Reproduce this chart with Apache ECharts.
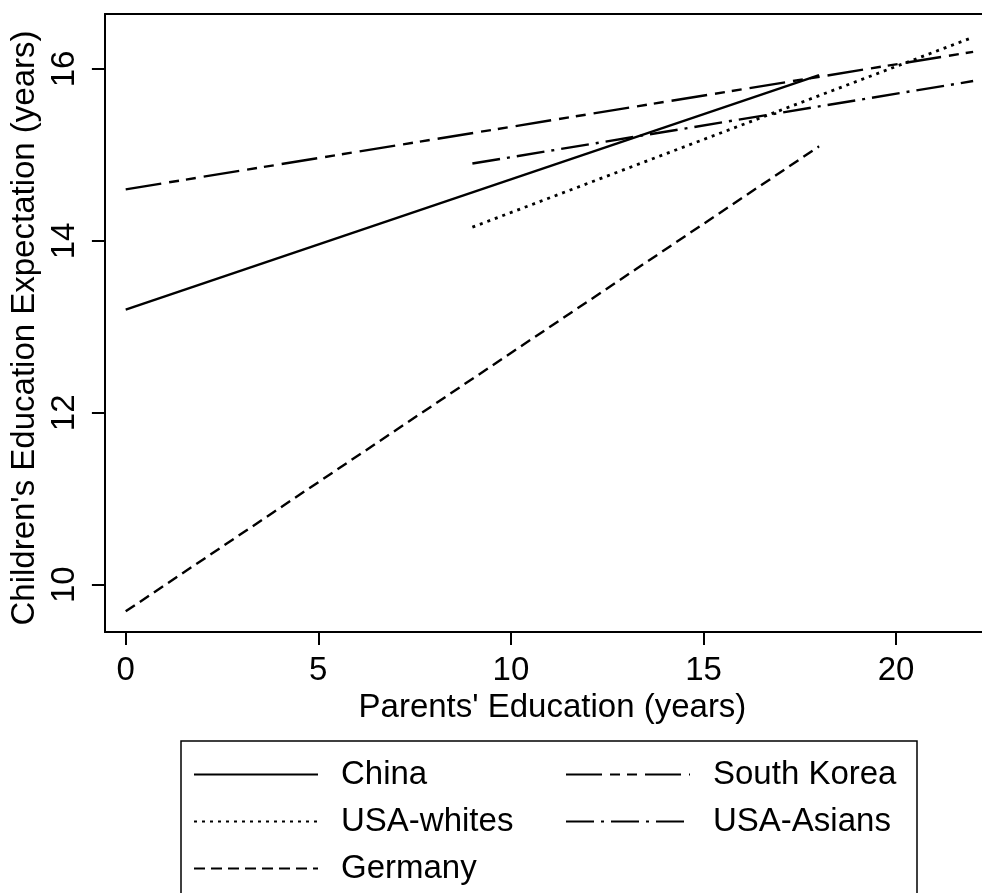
<!DOCTYPE html>
<html>
<head>
<meta charset="utf-8">
<script src="https://cdn.jsdelivr.net/npm/echarts@6/dist/echarts.min.js"></script>
<style>
  html, body { margin: 0; padding: 0; background: #fff; }
  #chart { width: 982px; height: 893px; }
</style>
</head>
<body>
<div id="chart"></div>
<script>
// Predicted children's education expectation by parents' education (years)
const seriesNames = ['China', 'South Korea', 'USA-whites', 'USA-Asians', 'Germany'];
const china      = [[0, 13.20], [18, 15.93]];
const southKorea = [[0, 14.60], [22, 16.20]];
const usaWhites  = [[9, 14.16], [22, 16.37]];
const usaAsians  = [[9, 14.90], [22, 15.86]];
const germany    = [[0, 9.69], [18, 15.10]];

const xTicks = [0, 5, 10, 15, 20];
const yTicks = [10, 12, 14, 16];

const FONT = 'Liberation Sans, Arial, sans-serif';
const FS = 33;
const LW = 2.4;
const X_MIN = -0.54, X_MAX = 22.23;
const Y_MIN = 9.45, Y_MAX = 16.64;

function lineSeries(name, data, dash, width) {
  return {
    name: name,
    type: 'line',
    xAxisIndex: 0,
    data: data,
    symbol: 'none',
    silent: true,
    animation: false,
    lineStyle: { color: '#000', width: width || LW, type: dash, cap: 'butt' },
    itemStyle: { color: '#000' }
  };
}

const chart = echarts.init(document.getElementById('chart'), null, { renderer: 'canvas' });

// legend keys show only the line pattern, no marker
const legendCommon = {
  orient: 'vertical',
  itemWidth: 124,
  itemHeight: 14,
  itemGap: 14,
  selectedMode: false,
  itemStyle: { opacity: 0 },
  textStyle: { fontFamily: FONT, fontSize: FS, color: '#000', lineHeight: 33, padding: [0, 0, 0, 18] }
};

const black = { color: '#000', width: 2 };

chart.setOption({
  backgroundColor: '#fff',
  animation: false,
  grid: { left: 103, top: 14, right: 0, bottom: 261, show: false },
  xAxis: [{
    type: 'value',
    min: X_MIN, max: X_MAX,
    name: "Parents' Education (years)",
    nameLocation: 'middle',
    nameGap: 58,
    nameTextStyle: { fontFamily: FONT, fontSize: FS, color: '#000', padding: [0, 0, 0, 18] },
    axisLine: { show: true, onZero: false, lineStyle: black },
    axisTick: { show: true, length: 13, customValues: xTicks, lineStyle: black },
    axisLabel: { customValues: xTicks, margin: 22, fontFamily: FONT, fontSize: FS, color: '#000' },
    splitLine: { show: false }
  }, {
    // frame line along the top of the plot
    type: 'value',
    position: 'top',
    min: X_MIN, max: X_MAX,
    axisLine: { show: true, onZero: false, lineStyle: black },
    axisTick: { show: false },
    axisLabel: { show: false },
    splitLine: { show: false }
  }],
  yAxis: {
    type: 'value',
    min: Y_MIN, max: Y_MAX,
    name: "Children's Education Expectation (years)",
    nameLocation: 'middle',
    nameGap: 60,
    nameTextStyle: { fontFamily: FONT, fontSize: FS, color: '#000', padding: [0, 10, 0, 0] },
    axisLine: { show: true, onZero: false, lineStyle: black },
    axisTick: { show: true, length: 13, customValues: yTicks, lineStyle: black },
    axisLabel: { customValues: yTicks, rotate: 90, margin: 23, fontFamily: FONT, fontSize: FS, color: '#000' },
    splitLine: { show: false }
  },
  legend: [
    Object.assign({}, legendCommon, { left: 188, top: 753, data: ['China', 'USA-whites', 'Germany'] }),
    Object.assign({}, legendCommon, { left: 560, top: 753, data: ['South Korea', 'USA-Asians'] })
  ],
  graphic: [{
    type: 'rect',
    silent: true,
    shape: { x: 181, y: 741, width: 736, height: 220 },
    style: { fill: 'transparent', stroke: '#000', lineWidth: 1.5 }
  }],
  series: [
    lineSeries(seriesNames[0], china, 'solid'),
    lineSeries(seriesNames[1], southKorea, [36, 8, 10, 7, 10, 8]),
    lineSeries(seriesNames[2], usaWhites, [3, 5], 2.8),
    lineSeries(seriesNames[3], usaAsians, [28, 7, 3, 7]),
    lineSeries(seriesNames[4], germany, [11, 6])
  ]
});
</script>
</body>
</html>
